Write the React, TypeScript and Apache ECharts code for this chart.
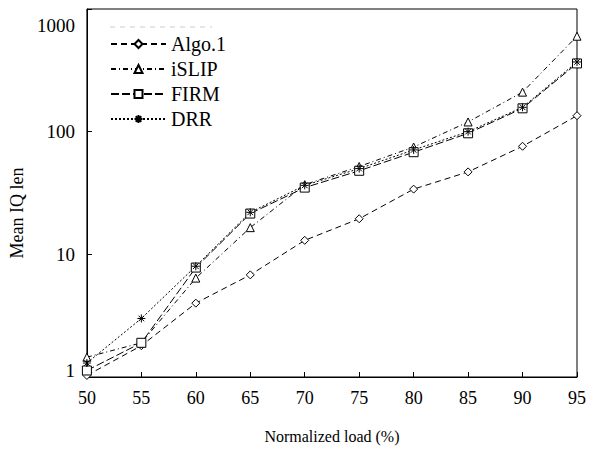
import React, { useEffect, useRef } from "react";
import * as echarts from "echarts";

const loads = [50, 55, 60, 65, 70, 75, 80, 85, 90, 95];
const algo1 = [1.03, 1.8, 4.0, 6.8, 13, 19.5, 34, 47, 76, 135];
const islip = [1.45, 1.9, 6.4, 16.5, 37, 52, 75, 120, 210, 600];
const firm = [1.13, 1.9, 7.8, 21.5, 35, 48, 68, 97, 155, 360];
const drr = [1.3, 3.0, 8.0, 22, 36.5, 50, 71, 100, 158, 370];
const seriesNames = ["Algo.1", "iSLIP", "FIRM", "DRR"];

const FONT = "Liberation Serif";
const starPath = "path://M4,0 L4,8 M0,4 L8,4 M1.2,1.2 L6.8,6.8 M6.8,1.2 L1.2,6.8";

export default function App() {
  const ref = useRef<HTMLDivElement>(null);
  useEffect(() => {
    if (!ref.current) return;
    const chart = echarts.init(ref.current, null, { renderer: "svg" });
    const mk = (name: string, vals: number[], symbol: string, size: number, dash: number[]) => ({
      name,
      type: "line",
      data: loads.map((x, i) => [x, vals[i]]),
      symbol,
      symbolSize: size,
      showAllSymbol: true,
      lineStyle: { color: "#000", width: 1, type: dash },
      itemStyle: { color: "#fff", borderColor: "#000", borderWidth: 1 },
      emphasis: { disabled: true },
    });
    chart.setOption({
      animation: false,
      backgroundColor: "#fff",
      textStyle: { fontFamily: FONT, fontWeight: "normal" },
      grid: {
        left: 85,
        right: 7,
        top: 9,
        bottom: 73,
        show: true,
        borderColor: "#000",
        borderWidth: 1,
        backgroundColor: "transparent",
      },
      legend: {
        orient: "vertical",
        left: 105,
        top: 29,
        itemWidth: 55,
        itemHeight: 10,
        itemGap: 5,
        data: seriesNames,
        textStyle: { fontFamily: FONT, fontSize: 20, color: "#000", lineHeight: 18 },
      },
      xAxis: {
        type: "value",
        min: 50,
        max: 95,
        interval: 5,
        name: "Normalized load (%)",
        nameLocation: "middle",
        nameGap: 51,
        nameTextStyle: { fontFamily: FONT, fontSize: 16, color: "#000" },
        axisLine: { onZero: false, lineStyle: { color: "#000", width: 1 } },
        axisTick: { inside: true, length: 5, lineStyle: { color: "#000" } },
        axisLabel: { fontFamily: FONT, fontSize: 18, color: "#000", margin: 12 },
        splitLine: { show: false },
      },
      yAxis: {
        type: "log",
        logBase: 10,
        min: 1,
        max: 1000,
        name: "Mean IQ len",
        nameLocation: "middle",
        nameGap: 58,
        nameTextStyle: { fontFamily: FONT, fontSize: 18, color: "#000", padding: [0, 40, 0, 0] },
        axisLine: { lineStyle: { color: "#000", width: 1 } },
        axisTick: { inside: true, length: 5, lineStyle: { color: "#000" } },
        minorTick: { show: false },
        axisLabel: {
          fontFamily: FONT,
          fontSize: 19,
          color: "#000",
          margin: 12,
          formatter: (v: number) => {
            const r = Math.round(v);
            if (r === 1000) return "{top|1000}";
            if (r === 1) return "{bot|1}";
            return String(r);
          },
          rich: {
            top: { fontFamily: FONT, fontSize: 19, color: "#000", padding: [32, 0, 0, 0] },
            bot: { fontFamily: FONT, fontSize: 19, color: "#000", padding: [0, 0, 14, 0] },
          },
        },
        splitLine: { show: false },
      },
      graphic: [
        {
          type: "line",
          shape: { x1: 110, y1: 27, x2: 212, y2: 27 },
          style: { stroke: "#ccc", lineWidth: 1, lineDash: [5, 5] },
          silent: true,
        },
      ],
      series: [
        mk("Algo.1", algo1, "diamond", 8, [6, 4]),
        mk("iSLIP", islip, "triangle", 8, [5, 3, 1, 3]),
        mk("FIRM", firm, "rect", 9, [8, 3]),
        mk("DRR", drr, starPath, 8, [2, 2]),
      ],
    });
    return () => chart.dispose();
  }, []);
  return <div ref={ref} style={{ width: 589, height: 450, position: "absolute", left: 0, top: 0 }} />;
}
